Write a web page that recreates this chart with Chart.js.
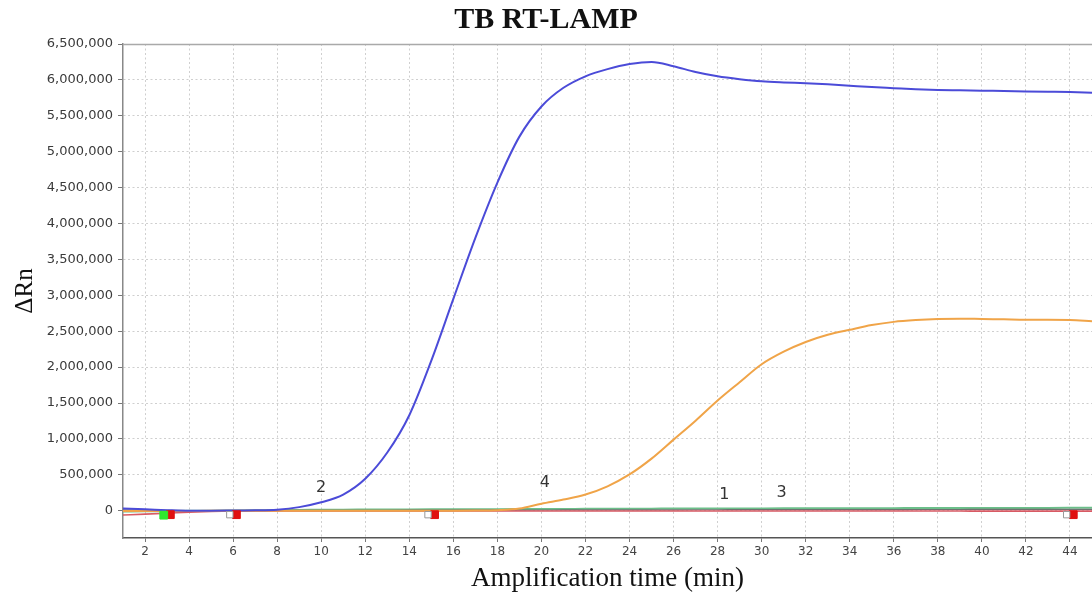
<!DOCTYPE html>
<html>
<head>
<meta charset="utf-8">
<script src="https://cdn.jsdelivr.net/npm/chart.js@4.4.1/dist/chart.umd.min.js"></script>
<style>
html,body{margin:0;padding:0;background:#fff;overflow:hidden;}
#wrap{width:1092px;height:603px;position:relative;}
</style>
</head>
<body>
<div id="wrap"><canvas id="c"></canvas></div>
<script>
// ---- data ----
const times = [1,2,3,4,5,6,7,8,9,10,11,12,13,14,15,16,17,18,19,20,21,22,23,24,25,26,27,28,29,30,31,32,33,34,35,36,37,38,39,40,41,42,43,44,45];

const sample2 = [30000,20000,8000,0,0,2000,5000,15000,50000,117000,225000,445000,810000,1330000,2090000,2950000,3800000,4570000,5210000,5630000,5890000,6050000,6150000,6220000,6250000,6190000,6110000,6050000,6010000,5980000,5965000,5955000,5940000,5920000,5900000,5885000,5870000,5860000,5855000,5850000,5845000,5840000,5835000,5830000,5820000];

const sample4 = [-5000,-5000,-4000,-3000,-2000,0,0,0,0,0,0,0,0,0,0,0,2000,8000,30000,98000,155000,225000,340000,505000,725000,990000,1254000,1535000,1790000,2040000,2215000,2350000,2450000,2520000,2585000,2630000,2655000,2670000,2675000,2670000,2665000,2660000,2660000,2655000,2640000];

const sample1 = [-10000,-8000,-5000,-2000,0,3000,6000,9000,11000,13000,15000,16000,17000,18000,19000,20000,21000,22000,23000,24000,25000,26000,27000,28000,29000,30000,30500,31000,32000,32500,33000,34000,34500,35000,35500,36000,36500,37000,37500,38000,38500,39000,39500,40000,40000];

const sample3 = [-60000,-48000,-35000,-20000,-10000,-4000,-2000,-2000,-2000,-2000,-2000,-2000,-2000,-2000,-2000,-2000,-2000,-3000,-3000,-3000,-3000,-3000,-3000,-3000,-3000,-4000,-4000,-4000,-4000,-4000,-4000,-4000,-5000,-5000,-5000,-5000,-5000,-5000,-5000,-6000,-6000,-6000,-6000,-6000,-6000];

const sampleGray = [12000,8000,4000,1000,0,1000,2000,3000,4000,5000,5500,6000,6500,7000,7500,8000,8500,9000,9500,10000,10500,11000,11500,12000,12500,13000,13300,13600,14000,14300,14600,15000,15300,15600,16000,16300,16600,17000,17200,17400,17600,17800,18000,18000,18000];

const startMarkerX = [2.85];
const startMarkerY = [-62000];
const openMarkerX = [5.85, 14.85, 43.85];
const openMarkerY = [-55000, -55000, -55000];
const endMarkerX = [3.15, 6.15, 15.15, 44.15];
const endMarkerY = [-55000, -55000, -55000, -55000];

const curveLabels = ['2', '4', '1', '3'];
const curveLabelX = [10, 20.15, 28.3, 30.9];
const curveLabelY = [320000, 385000, 220000, 250000];

const xTickValues = [2,4,6,8,10,12,14,16,18,20,22,24,26,28,30,32,34,36,38,40,42,44];
const yTickValues = [0,500000,1000000,1500000,2000000,2500000,3000000,3500000,4000000,4500000,5000000,5500000,6000000,6500000];

const titleText = 'TB RT-LAMP';
const xTitle = 'Amplification time (min)';
const yTitle = '\u0394Rn';

// ---- helpers ----
const pts = (xs, ys) => xs.map((x, i) => ({x: x, y: ys[i]}));

const lineDs = (data, color, width, order) => ({
  type: 'line',
  data: data,
  borderColor: color,
  backgroundColor: color,
  borderWidth: width,
  pointRadius: 0,
  tension: 0.4,
  cubicInterpolationMode: 'monotone',
  fill: false,
  order: order
});

const markerDs = (data, fill, stroke, r) => ({
  type: 'scatter',
  data: data,
  pointStyle: 'rect',
  pointRadius: r,
  pointBackgroundColor: fill,
  pointBorderColor: stroke,
  pointBorderWidth: 1,
  showLine: false,
  order: 0
});

const extras = {
  id: 'extras',
  afterDatasetsDraw(chart) {
    const {ctx, chartArea: a, scales: {x, y}} = chart;
    ctx.save();
    ctx.strokeStyle = '#a9a9a9';
    ctx.lineWidth = 1.5;
    ctx.beginPath();
    ctx.moveTo(a.left, a.top + 0.5);
    ctx.lineTo(a.right, a.top + 0.5);
    ctx.stroke();
    ctx.font = '16px "DejaVu Sans"';
    ctx.fillStyle = '#333';
    ctx.textAlign = 'center';
    ctx.textBaseline = 'middle';
    curveLabels.forEach((t, i) => {
      ctx.fillText(t, x.getPixelForValue(curveLabelX[i]), y.getPixelForValue(curveLabelY[i]));
    });
    ctx.restore();
  }
};

new Chart(document.getElementById('c'), {
  type: 'line',
  data: {
    datasets: [
      markerDs(pts(startMarkerX, startMarkerY), '#2ee82e', '#2ee82e', 5.5),
      markerDs(pts(openMarkerX, openMarkerY), '#ffffff', '#999999', 4.5),
      markerDs(pts(endMarkerX, endMarkerY), '#e01010', '#e01010', 5.5),
      lineDs(pts(times, sample2), '#4b4bd8', 2, 1),
      lineDs(pts(times, sample4), '#f0a448', 2, 2),
      lineDs(pts(times, sample3), '#d85a64', 1.6, 3),
      lineDs(pts(times, sampleGray), '#707070', 1.2, 4),
      lineDs(pts(times, sample1), '#6cbf8a', 2, 5)
    ]
  },
  options: {
    responsive: true,
    maintainAspectRatio: false,
    animation: false,
    events: [],
    layout: {padding: 0, autoPadding: false},
    plugins: {
      legend: {display: false},
      tooltip: {enabled: false},
      title: {
        display: true,
        text: titleText,
        color: '#111',
        font: {family: '"Liberation Serif"', size: 30, weight: 'bold'},
        padding: {top: 2, bottom: 6}
      }
    },
    scales: {
      x: {
        type: 'linear',
        min: 1,
        max: 45,
        afterBuildTicks: s => { s.ticks = xTickValues.map(v => ({value: v})); },
        afterFit: s => { s.height = 65; s.paddingRight = 0; s.paddingLeft = 0; },
        ticks: {
          color: '#444',
          font: {family: '"DejaVu Sans"', size: 12},
          padding: 3,
          maxRotation: 0,
          autoSkip: false
        },
        grid: {color: '#cfcfcf', lineWidth: 1, tickLength: 4, tickColor: '#777', tickBorderDash: []},
        border: {color: '#555', width: 1.5, dash: [2, 2.5]},
        title: {
          display: true,
          text: xTitle,
          color: '#111',
          font: {family: '"Liberation Serif"', size: 27},
          padding: {top: 0, bottom: 8}
        }
      },
      y: {
        type: 'linear',
        min: -380000,
        max: 6500000,
        afterBuildTicks: s => { s.ticks = yTickValues.map(v => ({value: v})); },
        afterFit: s => { s.width = 123; s.paddingTop = 0; s.paddingBottom = 0; },
        ticks: {
          color: '#3a3a3a',
          font: {family: '"DejaVu Sans"', size: 13},
          padding: 5,
          callback: v => Number(v).toLocaleString('en-US')
        },
        grid: {color: '#cfcfcf', lineWidth: 1, tickLength: 5, tickColor: '#777', tickBorderDash: []},
        border: {color: '#888', width: 1.5, dash: [2, 2.5]},
        title: {
          display: true,
          text: yTitle,
          color: '#111',
          font: {family: '"Liberation Serif"', size: 25},
          padding: {top: 10, bottom: 0}
        }
      }
    }
  },
  plugins: [extras]
});
</script>
</body>
</html>
